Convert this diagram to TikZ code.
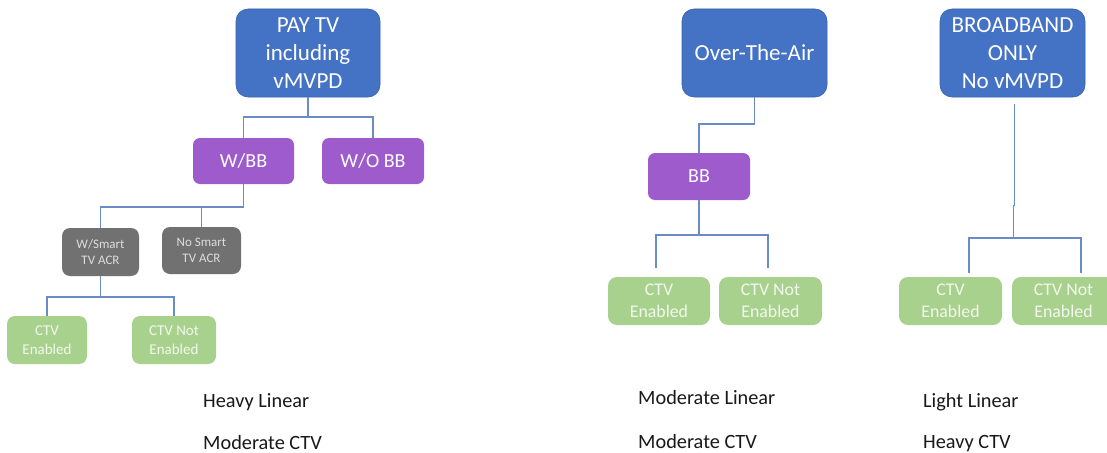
\documentclass[tikz,border=0pt]{standalone}
\usepackage{fontspec}
\setmainfont{Carlito}
\definecolor{boxblue}{HTML}{4472C4}
\definecolor{boxpurple}{HTML}{9E5BCB}
\definecolor{boxgray}{HTML}{717171}
\definecolor{boxgreen}{HTML}{A9D18E}
\definecolor{conncol}{HTML}{6A8BC6}
\definecolor{graytext}{HTML}{DDDDDD}
\definecolor{greentext}{HTML}{F2F8EE}
\begin{document}
\begin{tikzpicture}[x=1pt,y=-1pt,
  bluebox/.style={draw=boxblue!85!black,line width=0.6pt,fill=boxblue,rounded corners=12pt,text=white,align=center,inner sep=0pt,font=\fontsize{23}{28}\selectfont},
  purplebox/.style={fill=boxpurple,rounded corners=7pt,text=white,align=center,inner sep=0pt,font=\fontsize{20}{24}\selectfont},
  graybox/.style={fill=boxgray,rounded corners=8pt,text=graytext,align=center,inner sep=0pt,font=\fontsize{13}{16.5}\selectfont},
  greenbox/.style={fill=boxgreen,rounded corners=8pt,text=greentext,align=center,inner sep=0pt,font=\fontsize{15}{18.5}\selectfont},
  greenboxbig/.style={greenbox,rounded corners=9pt,font=\fontsize{17.8}{21.7}\selectfont},
  conn/.style={draw=conncol,line width=1.1pt},
  label/.style={anchor=base west,inner sep=0pt,text=black!90,font=\fontsize{20.3}{24}\selectfont}]
\clip (0,0) rectangle (1107,452);
\fill[white] (0,0) rectangle (1107,452);

% top-level boxes
\node[bluebox,minimum width=144pt,minimum height=88pt] (pay) at (308,53) {PAY TV\\including\\vMVPD};
\node[bluebox,minimum width=145pt,minimum height=88pt] (ota) at (754.5,53) {Over-The-Air};
\node[bluebox,minimum width=145pt,minimum height=88pt] (bbo) at (1012.5,53) {BROADBAND\\ONLY\\No vMVPD};

% second level
\node[purplebox,minimum width=101pt,minimum height=46pt] (wbb) at (243.5,161) {W/BB};
\node[purplebox,minimum width=102pt,minimum height=46pt] (wobb) at (373,161) {W/O BB};
\node[purplebox,minimum width=102pt,minimum height=47pt] (bb) at (699,176.5) {BB};

% gray level
\node[graybox,minimum width=77pt,minimum height=48pt] (wsm) at (100.5,252) {W/Smart\\TV ACR};
\node[graybox,minimum width=79pt,minimum height=47pt] (nsm) at (201.5,250.5) {No Smart\\TV ACR};

% green leaves
\node[greenbox,minimum width=80pt,minimum height=48pt] (ctva) at (47,340) {CTV\\Enabled};
\node[greenbox,minimum width=84pt,minimum height=48pt] (ctvna) at (174,340) {CTV Not\\Enabled};
\node[greenboxbig,minimum width=102pt,minimum height=48pt] (ctvb) at (659,301) {CTV\\Enabled};
\node[greenboxbig,minimum width=103pt,minimum height=48pt] (ctvnb) at (770.5,301) {CTV Not\\Enabled};
\node[greenboxbig,minimum width=103pt,minimum height=48pt] (ctvc) at (950.5,301) {CTV\\Enabled};
\node[greenboxbig,minimum width=103pt,minimum height=48pt] (ctvnc) at (1063.5,301) {CTV Not\\Enabled};

% connectors: PAY TV tree
\coordinate (b1) at (308,117);
\draw[conn] (pay.south) -- (b1) -| (wbb.north);
\draw[conn] (b1) -| (wobb.north);
\coordinate (b2) at (243.5,207);
\draw[conn] (wbb.south) -- (b2) -| (wsm.north);
\draw[conn] (b2) -| (nsm.north);
\coordinate (b3) at (100.5,297);
\draw[conn] (wsm.south) -- (b3) -| (ctva.north);
\draw[conn] (b3) -| (ctvna.north);

% OTA tree
\coordinate (b4) at (754.5,124);
\draw[conn] (ota.south) -- (b4) -| (bb.north);
\coordinate (b5) at (699,235);
\coordinate (e1) at (656,268);
\coordinate (e2) at (768,268);
\draw[conn] (bb.south) -- (b5) -| (e1);
\draw[conn] (b5) -| (e2);

% Broadband-only tree
\coordinate (s6) at (1014,104);
\coordinate (k6) at (1014,205);
\coordinate (b6) at (1013,238);
\coordinate (e3) at (969,273);
\coordinate (e4) at (1081,273);
\draw[conn,line width=0.9pt] (s6) -- (k6) -- (1013,205) -- (b6);
\draw[conn] (b6) -| (e3);
\draw[conn] (b6) -| (e4);

% bottom labels
\node[label] (l1) at (203,407) {Heavy Linear};
\node[label] (l2) at (203,449) {Moderate CTV};
\node[label] (l3) at (638,404) {Moderate Linear};
\node[label] (l4) at (638,448) {Moderate CTV};
\node[label] (l5) at (923,407) {Light Linear};
\node[label] (l6) at (923,448) {Heavy CTV};
\end{tikzpicture}
\end{document}
